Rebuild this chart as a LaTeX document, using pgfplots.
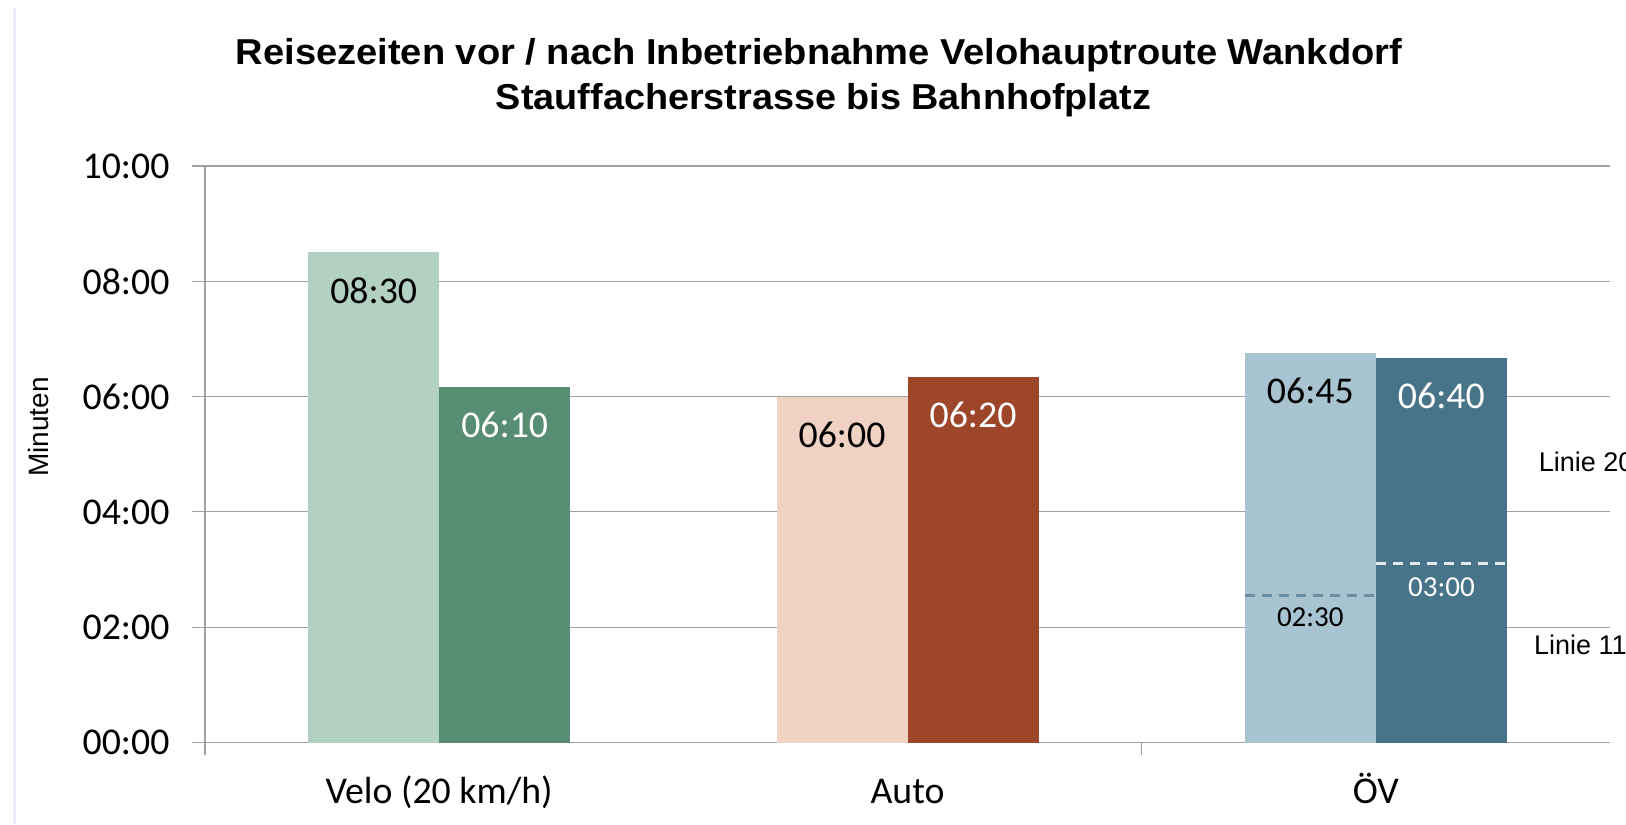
\documentclass[border=0pt]{standalone}
\usepackage{fontspec}
\setmainfont{Carlito}
\newfontfamily\arial{Liberation Sans}
\usepackage{graphicx}
\usepackage{pgfplots}
\pgfplotsset{compat=1.18}
\definecolor{veloA}{HTML}{B3D1C2}
\definecolor{veloB}{HTML}{578D72}
\definecolor{autoA}{HTML}{F0D2C4}
\definecolor{autoB}{HTML}{9D462A}
\definecolor{oevA}{HTML}{A7C4D0}
\definecolor{oevB}{HTML}{487489}
\definecolor{oevDashA}{HTML}{6A8EA2}
\definecolor{oevDashB}{HTML}{E2EAEE}
\definecolor{gridc}{RGB}{160,160,160}
\definecolor{borderc}{RGB}{234,239,249}
\newcommand{\numfont}{\fontsize{18.9}{22}\selectfont}
\pgfplotsset{
  barL/.style={ybar, bar width=65.5pt, bar shift=-32.75pt, draw=none,
    point meta=explicit symbolic, nodes near coords,
    nodes near coords style={anchor=center, xshift=-32.75pt, yshift=-19pt, font=\numfont}},
  barR/.style={ybar, bar width=65.5pt, bar shift=32.75pt, draw=none,
    point meta=explicit symbolic, nodes near coords,
    nodes near coords style={anchor=center, xshift=32.75pt, yshift=-19pt, font=\numfont}},
}
\begin{document}
\begin{tikzpicture}
\useasboundingbox (-102.5pt,-40.75pt) rectangle (710.5pt,371.25pt);
\draw[draw=borderc, line width=1.5pt] (-95.25pt,367.25pt) -- (-95.25pt,-40.75pt);
\node[anchor=base, font=\arial\bfseries\fontsize{18}{22}\selectfont] at (307pt,338.75pt)
  {\resizebox{583pt}{\height}{Reisezeiten vor / nach Inbetriebnahme Velohauptroute Wankdorf}};
\node[anchor=base, font=\arial\bfseries\fontsize{18}{22}\selectfont] at (309.25pt,316.5pt)
  {\resizebox{327.5pt}{\height}{Stauffacherstrasse bis Bahnhofplatz}};
\node[rotate=90, anchor=center, inner sep=0pt, font=\arial\fontsize{14}{16}\selectfont] at (-83.5pt,157.75pt) {Minuten};
\begin{axis}[
  at={(0,0)}, anchor=south west,
  scale only axis, width=702.5pt, height=288.25pt,
  xmin=-0.5, xmax=2.5, ymin=0, ymax=10,
  axis x line*=bottom, axis y line*=left,
  axis line style={draw=gridc, line width=0.6pt, -},
  xtick={-0.5,1.5}, xticklabels={},
  extra x ticks={0,1,2},
  extra x tick labels={Velo (20 km/h),Auto,ÖV},
  extra x tick style={major tick length=0pt, grid=none,
     xticklabel style={anchor=base, inner sep=0pt, yshift=-30.25pt}},
  ytick={0,2,4,6,8,10},
  yticklabels={00:00,02:00,04:00,06:00,08:00,10:00},
  yticklabel style={anchor=east, inner sep=0pt, xshift=-11.3pt},
  ymajorgrids, grid style={draw=gridc, line width=0.6pt},
  tick style={draw=gridc, line width=0.6pt},
  tick align=outside, major tick length=6.3pt,
  tick label style={font=\numfont},
  /pgf/number format/assume math mode=true,
  clip=false,
]
\addplot[barL, fill=veloA, nodes near coords style={text=black}] coordinates {(0,8.5) [08:30]};
\addplot[barR, fill=veloB, nodes near coords style={text=white}] coordinates {(0,6.1667) [06:10]};
\addplot[barL, fill=autoA, nodes near coords style={text=black}] coordinates {(1,6.0) [06:00]};
\addplot[barR, fill=autoB, nodes near coords style={text=white}] coordinates {(1,6.3333) [06:20]};
\addplot[barL, fill=oevA, nodes near coords style={text=black}] coordinates {(2,6.75) [06:45]};
\addplot[barR, fill=oevB, nodes near coords style={text=white}] coordinates {(2,6.6667) [06:40]};
\addplot[draw=oevDashA, line width=1.3pt, dash pattern=on 5pt off 3.5pt]
  coordinates {(1.72,2.55) (2.0,2.55)}
  node[pos=0.5, yshift=-11pt, text=black, font=\fontsize{14.5}{17}\selectfont] {02:30};
\addplot[draw=oevDashB, line width=1.3pt, dash pattern=on 5pt off 3.5pt]
  coordinates {(2.0,3.1) (2.28,3.1)}
  node[pos=0.5, yshift=-11.5pt, text=white, font=\fontsize{14.5}{17}\selectfont] {03:00};
\node[overlay, anchor=west, inner sep=0pt, font=\arial\fontsize{13.5}{16}\selectfont] at (axis cs:2.347,4.87) {Linie 20};
\node[overlay, anchor=west, inner sep=0pt, font=\arial\fontsize{13.5}{16}\selectfont] at (axis cs:2.337,1.69) {Linie 11};
\end{axis}
\end{tikzpicture}
\end{document}
